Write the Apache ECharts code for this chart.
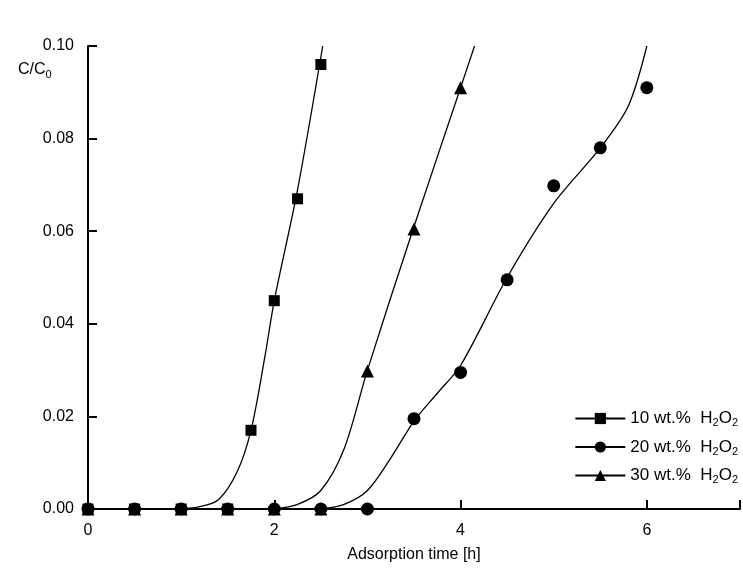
<!DOCTYPE html>
<html>
<head>
<meta charset="utf-8">
<script src="https://cdn.jsdelivr.net/npm/echarts@6/dist/echarts.min.js"></script>
</head>
<body style="margin:0">
<div id="main" style="width:743px;height:568px;"></div>
<script>
// measured points
var x10 = [0, 0.5, 1, 1.5, 1.75, 2, 2.25, 2.5];
var y10 = [0, 0, 0, 0, 0.017, 0.045, 0.067, 0.096];
var x20 = [0, 0.5, 1, 1.5, 2, 2.5, 3, 3.5, 4, 4.5, 5, 5.5, 6];
var y20 = [0, 0, 0, 0, 0, 0, 0, 0.0195, 0.0295, 0.0495, 0.0698, 0.078, 0.091];
var x30 = [0, 0.5, 1, 1.5, 2, 2.5, 3, 3.5, 4];
var y30 = [0, 0, 0, 0, 0, 0, 0.0298, 0.0605, 0.091];
// fitted curves
var cx10 = [1, 1.2, 1.4, 1.6, 1.75, 1.9, 2, 2.25, 2.52];
var cy10 = [0, 0.0005, 0.002, 0.008, 0.017, 0.033, 0.045, 0.069, 0.1];
var cx20 = [2.5, 2.75, 3, 3.25, 3.5, 3.75, 4, 4.5, 5, 5.5, 5.8, 6];
var cy20 = [0, 0.001, 0.004, 0.011, 0.019, 0.025, 0.031, 0.05, 0.066, 0.078, 0.087, 0.1];
var cx30 = [2, 2.25, 2.5, 2.75, 3, 3.5, 4, 4.15];
var cy30 = [0, 0.001, 0.004, 0.013, 0.03, 0.061, 0.091, 0.1];
var names = ['10 wt.%  H{s|2}O{s|2}', '20 wt.%  H{s|2}O{s|2}', '30 wt.%  H{s|2}O{s|2}'];
var symbols = ['rect', 'circle', 'triangle'];

function pairs(a, b) { return a.map(function (v, i) { return [v, b[i]]; }); }
var pts = [pairs(x10, y10), pairs(x20, y20), pairs(x30, y30)];
var crv = [pairs(cx10, cy10), pairs(cx20, cy20), pairs(cx30, cy30)];
var series = [];
for (var i = 0; i < 3; i++) {
  series.push({
    name: names[i], type: 'line', data: crv[i], smooth: 0.3, showSymbol: false,
    symbol: symbols[i], symbolSize: 14, itemStyle: {color: '#000'},
    lineStyle: {color: '#000', width: 1.3}
  });
  series.push({
    type: 'scatter', data: pts[i], symbol: symbols[i],
    symbolSize: i == 0 ? 11 : 13, itemStyle: {color: '#000', opacity: 1}
  });
}
var chart = echarts.init(document.getElementById('main'));
chart.setOption({
  animation: false,
  textStyle: {fontFamily: 'Liberation Sans, Arial', color: '#000'},
  grid: {left: 88, right: 2, top: 46, bottom: 57},
  legend: {
    right: 0, top: 405, orient: 'vertical', itemGap: 10, itemWidth: 50, itemHeight: 14,
    data: names,
    textStyle: {fontSize: 17, color: '#000', rich: {s: {fontSize: 11, verticalAlign: 'bottom', padding: [9, 0, 0, 0]}}}
  },
  xAxis: {
    type: 'value', min: 0, max: 7, interval: 2,
    name: 'Adsorption time [h]', nameLocation: 'middle', nameGap: 38,
    nameTextStyle: {fontSize: 16, color: '#000'},
    axisLine: {lineStyle: {color: '#000', width: 2}},
    axisTick: {inside: true, length: 9, lineStyle: {color: '#000', width: 2}},
    axisLabel: {fontSize: 16, color: '#000', margin: 14, formatter: function (v) { return v == 7 ? '' : v; }},
    splitLine: {show: false}
  },
  yAxis: {
    type: 'value', min: 0, max: 0.1, interval: 0.02,
    axisLine: {show: true, lineStyle: {color: '#000', width: 2}},
    axisTick: {inside: true, length: 9, lineStyle: {color: '#000', width: 2}},
    axisLabel: {fontSize: 16, color: '#000', margin: 14, formatter: function (v) { return v.toFixed(2); }},
    splitLine: {show: false}
  },
  graphic: [{
    type: 'text', left: 18, top: 62,
    style: {text: 'C/C{s|0}', fontSize: 16, fill: '#000', fontFamily: 'Liberation Sans',
      rich: {s: {fontSize: 11, verticalAlign: 'bottom', padding: [9, 0, 0, 0]}}}
  }],
  series: series
});
</script>
</body>
</html>
